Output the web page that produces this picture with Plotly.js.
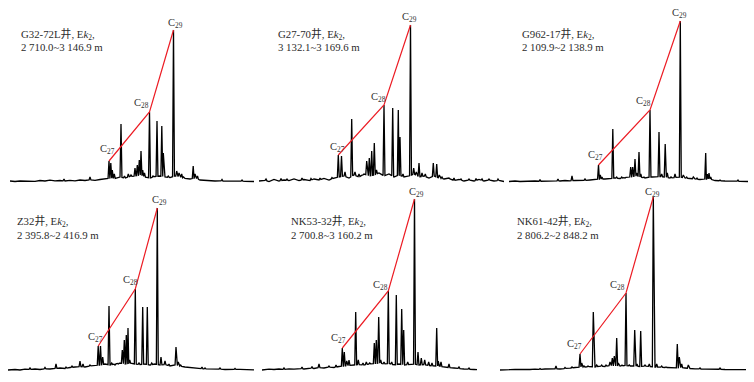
<!DOCTYPE html>
<html><head><meta charset="utf-8">
<script src="https://cdn.plot.ly/plotly-3.0.1.min.js"></script>
<style>html,body{margin:0;padding:0;background:#fff}#chart{width:754px;height:382px}</style>
</head><body><div id="chart"></div>
<script>
// ---- Panel labels ----
const wellNames = ["G32-72L井", "G27-70井", "G962-17井", "Z32井", "NK53-32井", "NK61-42井"];
const intervals = ["2 710.0~3 146.9 m", "3 132.1~3 169.6 m", "2 109.9~2 138.9 m", "2 395.8~2 416.9 m", "2 700.8~3 160.2 m", "2 806.2~2 848.2 m"];
const steraneLabels = ["C<sub>27</sub>", "C<sub>28</sub>", "C<sub>29</sub>"];

// ---- Panel 1: G32-72L ----
const p1NoiseX = [10,15,20,25,30,35,40,45,50,55,60,65,70,75,80,85,90,95,100,105,110,115,120,125,130,135,140,145,150,155,160,165,170,175,180,185,190,195,200,205,210,215,220,225,230,235,240,245,250,254];
const p1NoiseY = [1,0.5,1,0.8,1.2,0.6,1.5,1,1.8,1.2,1.5,1,1.6,1.2,2,1.5,2.2,1.6,2.5,3,4,3.5,5,4,5.5,6,7,5,4,5.5,6,5,4.5,6,5,3.5,3,4,2,1.5,1.2,1,1.2,0.8,1,0.7,1,0.6,0.8,0.5];
const p1PeakX = [64,90,109,110.8,112.3,114.3,121,124.5,128.3,131,135,137.3,139.3,141,142.7,144.5,149.5,153,157,161.8,163.3,168.3,173.5,176.7,179,181.7,183.5,193.2,195,197.5,222,242];
const p1PeakH = [3,5,21,19,12,8,58,6,8,7,14,17,22,31,12,9,70,6,61,56,29,6,152,11,9,8,5,16,8,6,2.5,2];
const p1SteraneX = [109,149.5,173.5];

// ---- Panel 2: G27-70 ----
const p2NoiseX = [5,10,15,20,25,30,35,40,45,50,55,60,65,70,75,80,85,90,95,100,105,110,115,120,125,130,135,140,145,150,155,160,165,170,175,180,185,190,195,200,205,210,215,220,225,230,235,240,245,250];
const p2NoiseY = [1,2,0.5,2.5,1,2,1.5,3,1.5,2.5,1,3,2,3.5,2,4,5,6,4,7,5,8,6,7,9,6,8,5,7,5,6,8,5,6,4,6,4,3,3.5,1.5,2.5,1,2,1,2.5,1,2,1,1.5,0.5];
const p2PeakX = [12,27,33,48,57,66,73,78,84.3,87.5,91,97.7,101,105,109,112.7,115.3,117.7,120.3,122.5,126,130,133,138.7,144.3,146,149,156.5,159.7,162.3,165,168,171.3,179.3,182.7,185.3,188,195,200,207,215,222,228,235,244];
const p2PeakH = [3,3.5,3,4,3.5,4,3,4.5,27,26,10,63,10,8,7,21,24,31,39,12,8,77,7,74,72,45,8,157,14,10,19,9,8,19,18,7,5,4,4,3,3,3.5,3,3,3];
const p2SteraneX = [84.3,130,156.5];

// ---- Panel 3: G962-17 ----
const p3NoiseX = [9,15,20,25,30,35,40,45,50,55,60,65,70,75,80,85,90,95,100,105,110,115,120,125,130,135,140,145,150,155,160,165,170,175,180,185,190,195,200,205,210,215,220,225,230,235,240,245,248];
const p3NoiseY = [0.5,1,0.5,0.8,0.6,1,0.7,1,0.8,1.2,1,1.5,1.2,1.5,1.8,1.5,2,2.5,3,3,3.5,4,3.5,4.5,5,6,5,4,5,5,5.5,5,4,4.5,5,4,3.5,3,2.5,3,3,1.5,1.2,1,0.8,1,0.6,0.8,0.5];
const p3PeakX = [40,58,72,85,98.5,100.3,102,112.8,116.7,121.7,125,130.7,132.7,135,136.7,139,140.8,144,150,153.3,159,161.7,165.2,167.3,171,175,180.3,183.3,186.7,190,193.3,197,205.7,207.3,209,210.7,220,238];
const p3PeakH = [2.5,3,6,3,17,7,5,53,5,5,4,15,15,23,9,30,8,5,72,5,50,8,38,9,5,8,161,7,5,4,5,4,29,8,9,5,2,2];
const p3SteraneX = [98.5,150,180.3];

// ---- Panel 4: Z32 ----
const p4NoiseX = [8,15,20,25,30,35,40,45,50,55,60,65,70,75,80,85,90,95,100,105,110,115,120,125,130,135,140,145,150,155,160,165,170,175,180,185,190,195,200,205,210,215,220,225,230,235,240,245,250,254];
const p4NoiseY = [0,0.5,0,0.8,0.5,1,0.5,1.2,1,1.5,2,1.5,2.5,3,3.5,3,4,4.5,5,6,5,6,7,6,7,6,5.5,6,5,6,5,5.5,4,5,4,3,2.5,2,1.5,1,1.2,0.8,1,0.5,0.8,0.5,0.7,0.3,0.5,0.2];
const p4PeakX = [30,45,56,66,72,80,83,90,98.2,100.5,102.7,109,111.7,115,118.3,122.3,124.3,126.3,128,129.7,135.3,139,142.7,147.3,151.7,157.3,161,165,169,172.3,176,178.3,180.7,190,202,205,220,235];
const p4PeakH = [2,2.5,6,3,4,9,6,5,24,24,13,64,7,5,6,20,30,35,42,10,81,7,63,63,7,162,13,9,6,5,23,8,5,3,3,2,2,1.5];
const p4SteraneX = [98.2,135.3,157.3];

// ---- Panel 5: NK53-32 ----
const p5NoiseX = [8,15,20,25,30,35,40,45,50,55,60,65,70,75,80,85,90,95,100,105,110,115,120,125,130,135,140,145,150,155,160,165,170,175,180,185,190,195,200,205,210,215,220,223];
const p5NoiseY = [0,0.8,0.5,1,0.5,1.2,0.8,1.5,1,2,1.5,2.5,2,3,2.5,3.5,4,4.5,5,5.5,5,6,6.5,7,6,6.5,5,6,5,5.5,6,5,5.5,4.5,4,4,3,2.5,2,1.5,1,0.8,0.5,0.3];
const p5PeakX = [30,48,58,65,75,82,88.3,90.3,92.7,95,101.7,104.3,109,112.3,115.7,120.3,122.3,124.7,126.7,130,134.3,137.7,142.3,147.7,149.7,153.7,160.5,164,167.3,170.7,174.7,178,182.7,184.3,187,195,205,215];
const p5PeakH = [2,3,3.5,6,4,5,22,18,9,10,58,10,7,8,7,27,30,53,10,8,79,8,75,61,40,8,171,18,12,10,8,7,42,9,8,6,3,2];
const p5SteraneX = [88.3,134.3,160.5];

// ---- Panel 6: NK61-42 ----
const p6NoiseX = [0,5,10,15,20,25,30,35,40,45,50,55,60,65,70,75,80,85,90,95,100,105,110,115,120,125,130,135,140,145,150,155,160,165,170,175,180,185,190,195,200,205,210,215,220,225,230,235,240,246];
const p6NoiseY = [0,0.5,0.3,0.6,0.4,0.8,0.5,0.8,0.6,1,0.8,1.2,1,1.5,1.8,2.5,3,3,3.5,3,4,3.5,4.5,4,4,4.5,4,4,3.5,4,3.5,3,3,2.5,2.5,2,2.5,2,1.5,1.2,1,0.8,1,0.6,0.8,0.5,0.6,0.4,0.5,0.3];
const p6PeakX = [40,56,65,72,80,81.7,84,88,93.3,96.7,101.7,106,110,112.3,114.3,116.7,118.3,122,126,129.3,134.7,137,140.7,145,149.3,153.3,156.7,161.7,166,177.3,179.3,181.7,188.3,200,220];
const p6PeakH = [1.5,4,2.5,3,16,7,4,4,58,5,5,5,8,12,14,32,7,5,77,5,40,6,39,5,6,173,6,4,3,26,13,6,5,2,2];
const p6SteraneX = [80,126,153.3];

// ---- layout helpers (positions/styles) ----
const W = 754, H = 382;
const colOffsets = [0, 254, 500];
const panelWidth = 254;
const labelPos = [[19,148,135],[21.7,148,135],[20,148,135],[15,148.5,135.3],[35,148.5,135.3],[15,148.5,135.3]];
const cLabelPos = [
  [[107,33],[141.7,79],[175,159]],
  [[83,35],[124.5,84.5],[155.7,165]],
  [[95.8,26.3],[143.8,80.7],[179,169]],
  [[95.5,32.8],[130.5,89.5],[159.5,169.5]],
  [[84.2,32],[126.7,85],[162.8,178]],
  [[74.7,25.2],[117.2,85],[152.8,178]]
];
const HW = 0.95;

const panels = [
  [p1NoiseX,p1NoiseY,p1PeakX,p1PeakH,p1SteraneX],
  [p2NoiseX,p2NoiseY,p2PeakX,p2PeakH,p2SteraneX],
  [p3NoiseX,p3NoiseY,p3PeakX,p3PeakH,p3SteraneX],
  [p4NoiseX,p4NoiseY,p4PeakX,p4PeakH,p4SteraneX],
  [p5NoiseX,p5NoiseY,p5PeakX,p5PeakH,p5SteraneX],
  [p6NoiseX,p6NoiseY,p6PeakX,p6PeakH,p6SteraneX]
];

function interp(nx, ny, x) {
  if (x <= nx[0]) return ny[0];
  for (let i = 1; i < nx.length; i++) {
    if (x <= nx[i]) { const t = (x - nx[i-1]) / (nx[i] - nx[i-1]); return ny[i-1] + t * (ny[i] - ny[i-1]); }
  }
  return ny[ny.length - 1];
}

function buildSignal(nx, ny, px, ph) {
  const pts = [];
  nx.forEach((x, i) => {
    if (!px.some(p => Math.abs(p - x) <= HW)) pts.push([x, ny[i]]);
  });
  px.forEach((x, i) => {
    pts.push([x - HW, interp(nx, ny, x - HW)]);
    pts.push([x, ph[i]]);
    pts.push([x + HW, interp(nx, ny, x + HW)]);
  });
  pts.sort((a, b) => a[0] - b[0]);
  return { x: pts.map(p => p[0]), y: pts.map(p => p[1]) };
}

const data = [];
const annotations = [];
const layout = {
  width: W, height: H, autosize: false,
  margin: {l: 0, r: 0, t: 0, b: 0},
  paper_bgcolor: '#fff', plot_bgcolor: 'rgba(0,0,0,0)',
  showlegend: false,
  annotations: annotations
};

const fontFam = "Liberation Serif, Noto Sans CJK SC, serif";

panels.forEach((p, i) => {
  const [nx, ny, px, ph, sx] = p;
  const row = Math.floor(i / 3), col = i % 3;
  const suffix = i === 0 ? '' : String(i + 1);
  const xa = 'x' + suffix, ya = 'y' + suffix;
  const off = colOffsets[col];
  layout['xaxis' + suffix] = {
    domain: [off / W, Math.min(1, (off + panelWidth) / W)],
    range: [0, panelWidth], visible: false, fixedrange: true, anchor: ya
  };
  layout['yaxis' + suffix] = {
    domain: row === 0 ? [0.5, 1] : [0, 0.5],
    range: row === 0 ? [-9, 182] : [-12, 179],
    visible: false, fixedrange: true, anchor: xa
  };
  const sig = buildSignal(nx, ny, px, ph);
  data.push({
    type: 'scatter', mode: 'lines', x: sig.x, y: sig.y, xaxis: xa, yaxis: ya,
    line: {color: '#000000', width: 1.3}, hoverinfo: 'skip', cliponaxis: false
  });
  data.push({
    type: 'scatter', mode: 'lines', x: sx, y: sx.map(x => ph[px.indexOf(x)]),
    xaxis: xa, yaxis: ya, line: {color: '#ec1c24', width: 1.2}, hoverinfo: 'skip', cliponaxis: false
  });
  const lp = labelPos[i];
  annotations.push({
    xref: xa, yref: ya, x: lp[0], y: lp[1], xanchor: 'left', yanchor: 'middle', showarrow: false,
    text: wellNames[i] + ', E<i>k</i><sub>2</sub>,', font: {family: fontFam, size: 10.8, color: '#2b2b2b'}
  });
  annotations.push({
    xref: xa, yref: ya, x: lp[0], y: lp[2], xanchor: 'left', yanchor: 'middle', showarrow: false,
    text: intervals[i], font: {family: fontFam, size: 10.8, color: '#2b2b2b'}
  });
  cLabelPos[i].forEach((c, k) => {
    annotations.push({
      xref: xa, yref: ya, x: c[0], y: c[1], xanchor: 'center', yanchor: 'middle', showarrow: false,
      text: steraneLabels[k], font: {family: fontFam, size: 10.5, color: '#333333'}
    });
  });
});

Plotly.newPlot('chart', data, layout, {staticPlot: true, displayModeBar: false});
</script></body></html>
